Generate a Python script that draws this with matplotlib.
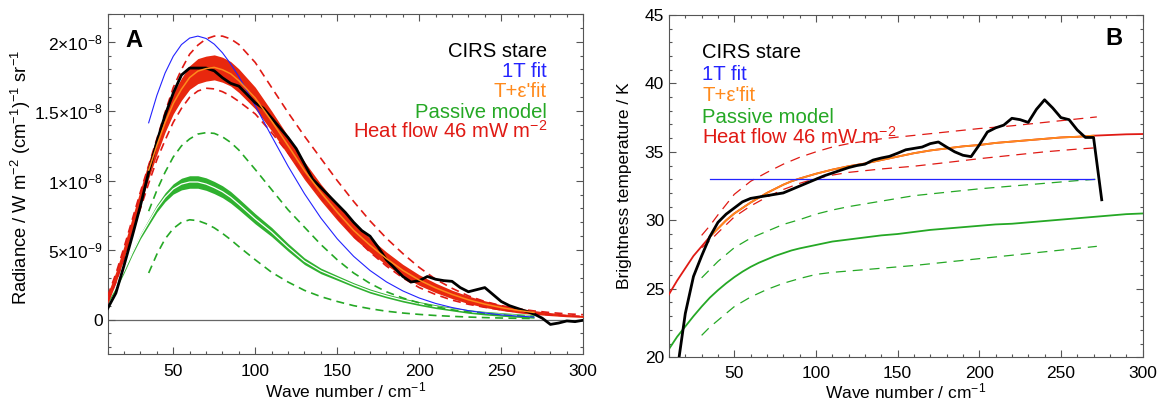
import numpy as np
import matplotlib.pyplot as plt
from matplotlib.ticker import MultipleLocator, FixedLocator, FixedFormatter

plt.rcParams['font.family'] = ['Liberation Sans', 'DejaVu Sans']
plt.rcParams['mathtext.fontset'] = 'custom'
plt.rcParams['mathtext.rm'] = 'Liberation Sans'
plt.rcParams['mathtext.it'] = 'Liberation Sans:italic'
plt.rcParams['mathtext.bf'] = 'Liberation Sans:bold'
plt.rcParams['mathtext.default'] = 'regular'

# ---------------- panel A : radiance (units of 1e-8 W m-2 (cm-1)-1 sr-1) ----------------
wn_model = [10, 15, 20, 25, 30, 35, 40, 45, 50, 55, 60, 65, 70, 75, 80, 85, 90,
            100, 110, 120, 130, 140, 150, 160, 170, 180, 190, 200, 210, 220, 230,
            240, 250, 260, 270, 280, 290, 300]
heat_mid = [0.150, 0.304, 0.486, 0.685, 0.882, 1.076, 1.253, 1.418, 1.555, 1.658, 1.742,
            1.788, 1.806, 1.815, 1.798, 1.769, 1.719,
            1.594, 1.429, 1.252, 1.072, 0.915, 0.773, 0.642, 0.535, 0.439, 0.354, 0.284,
            0.228, 0.181, 0.142, 0.111, 0.086, 0.066, 0.051, 0.039, 0.029, 0.022]
heat_hw = [0.035, 0.04, 0.045, 0.05, 0.055, 0.06, 0.065, 0.07, 0.075, 0.08, 0.085,
           0.09, 0.09, 0.09, 0.09, 0.088, 0.085,
           0.078, 0.072, 0.068, 0.064, 0.06, 0.058, 0.055, 0.05, 0.047, 0.043, 0.038,
           0.034, 0.03, 0.027, 0.024, 0.02, 0.017, 0.014, 0.011, 0.009, 0.007]
heat_hi = [0.17, 0.33, 0.52, 0.72, 0.92, 1.11, 1.30, 1.49, 1.67, 1.80, 1.91,
           1.975, 2.02, 2.04, 2.04, 2.02, 1.98,
           1.85, 1.67, 1.49, 1.32, 1.16, 1.00, 0.85, 0.71, 0.585, 0.475, 0.375,
           0.29, 0.225, 0.17, 0.13, 0.10, 0.078, 0.062, 0.05, 0.041, 0.035]
heat_lo = [0.13, 0.27, 0.44, 0.62, 0.80, 0.98, 1.15, 1.29, 1.42, 1.52, 1.60,
           1.645, 1.665, 1.66, 1.64, 1.61, 1.57,
           1.48, 1.345, 1.20, 1.04, 0.88, 0.74, 0.60, 0.485, 0.385, 0.30, 0.23,
           0.18, 0.14, 0.11, 0.088, 0.07, 0.055, 0.043, 0.034, 0.027, 0.022]

wn_green = [10, 15, 20, 25, 30, 35, 40, 45, 50, 55, 60, 65, 70, 75, 80, 85, 90,
            100, 110, 120, 130, 140, 150, 160, 170, 180, 190, 200, 210, 220, 230,
            240, 250, 260, 270]
passive_mid = [0.13, 0.23, 0.35, 0.48, 0.60, 0.70, 0.80, 0.88, 0.94, 0.975, 0.99,
               0.99, 0.975, 0.95, 0.92, 0.88, 0.83,
               0.725, 0.63, 0.52, 0.42, 0.35, 0.30, 0.25, 0.205, 0.17, 0.14, 0.115,
               0.093, 0.075, 0.058, 0.046, 0.037, 0.029, 0.022]
passive_hw = [0.015, 0.015, 0.015, 0.015, 0.018, 0.022, 0.027, 0.032, 0.037, 0.042, 0.045,
              0.045, 0.045, 0.044, 0.043, 0.042, 0.04,
              0.037, 0.033, 0.028, 0.024, 0.02, 0.017, 0.015, 0.015, 0.014, 0.014, 0.014,
              0.014, 0.013, 0.013, 0.013, 0.013, 0.013, 0.013]

wn_gdash = [35, 40, 45, 50, 55, 60, 65, 70, 75, 80, 85, 90,
            100, 110, 120, 130, 140, 150, 160, 170, 180, 190, 200, 210, 220, 230,
            240, 250, 260, 270]
passive_hi = [0.78, 0.93, 1.06, 1.17, 1.25, 1.30, 1.335, 1.345, 1.34, 1.315, 1.275, 1.22,
              1.08, 0.935, 0.79, 0.665, 0.54, 0.43, 0.335, 0.26, 0.20, 0.155, 0.12,
              0.092, 0.07, 0.055, 0.043, 0.034, 0.027, 0.021]
passive_lo = [0.335, 0.47, 0.58, 0.655, 0.70, 0.718, 0.712, 0.69, 0.66, 0.62, 0.575, 0.525,
              0.43, 0.34, 0.27, 0.21, 0.165, 0.13, 0.10, 0.078, 0.06, 0.047, 0.037,
              0.029, 0.023, 0.018, 0.014, 0.011, 0.009, 0.007]

wn_fit = [35, 40, 45, 50, 55, 60, 65, 70, 75, 80, 85, 90,
          100, 110, 120, 130, 140, 150, 160, 170, 180, 190, 200, 210, 220, 230,
          240, 250, 260, 270]
onet_rad = [1.416, 1.613, 1.774, 1.895, 1.979, 2.026, 2.04, 2.023, 1.982, 1.920, 1.84, 1.748,
            1.539, 1.319, 1.104, 0.906, 0.731, 0.581, 0.455, 0.353, 0.271, 0.206, 0.155,
            0.116, 0.0865, 0.064, 0.047, 0.034, 0.025, 0.018]
teps_rad = [1.076, 1.253, 1.418, 1.555, 1.658, 1.742, 1.788, 1.806, 1.815, 1.798, 1.769, 1.719,
            1.594, 1.429, 1.252, 1.072, 0.915, 0.773, 0.642, 0.535, 0.439, 0.354, 0.284,
            0.228, 0.181, 0.142, 0.111, 0.086, 0.066, 0.051]

wn_stare = [10, 15, 20, 25, 30, 35, 40, 45, 50, 55, 60, 65, 70, 75, 80, 85, 90, 95,
            100, 105, 110, 115, 120, 125, 130, 135, 140, 145, 150, 155, 160, 165, 170,
            175, 180, 185, 190, 195, 200, 205, 210, 215, 220, 225, 230, 235, 240, 245,
            250, 255, 260, 265, 270, 275, 280, 285, 290, 295, 300]
stare_rad = [0.08, 0.19, 0.39, 0.60, 0.82, 1.06, 1.28, 1.47, 1.63, 1.76,
             1.81, 1.81, 1.81, 1.79, 1.74, 1.70, 1.68, 1.62, 1.56, 1.52,
             1.45, 1.38, 1.31, 1.23, 1.12, 1.01, 0.95, 0.89, 0.83, 0.77,
             0.70, 0.64, 0.60, 0.52, 0.43, 0.37, 0.31, 0.27, 0.28, 0.31,
             0.29, 0.28, 0.275, 0.23, 0.20, 0.215, 0.23, 0.18, 0.13, 0.10,
             0.08, 0.06, 0.04, 0.01, -0.035, -0.025, -0.01, -0.015, -0.005]

# ---------------- panel B : brightness temperature (K) ----------------
heat_tb = [24.6, 25.6, 26.5, 27.4, 28.1, 28.8, 29.4, 30.0, 30.5, 30.9, 31.3,
           31.65, 32.0, 32.3, 32.6, 32.85, 33.05,
           33.4, 33.7, 33.95, 34.15, 34.4, 34.65, 34.9, 35.1, 35.25, 35.4, 35.5,
           35.65, 35.75, 35.85, 35.95, 36.05, 36.1, 36.18, 36.23, 36.28, 36.3]
passive_tb = [20.6, 21.5, 22.25, 23.0, 23.7, 24.35, 24.9, 25.4, 25.85, 26.25, 26.6,
              26.9, 27.15, 27.4, 27.6, 27.8, 27.95,
              28.2, 28.45, 28.6, 28.75, 28.9, 29.0, 29.15, 29.3, 29.4, 29.5, 29.6,
              29.7, 29.75, 29.85, 29.95, 30.05, 30.15, 30.25, 30.35, 30.45, 30.5]
teps_tb = [28.8, 29.4, 30.0, 30.5, 30.9, 31.3, 31.65, 32.0, 32.3, 32.6, 32.85, 33.05,
           33.4, 33.7, 33.95, 34.15, 34.4, 34.65, 34.9, 35.1, 35.25, 35.4, 35.5,
           35.65, 35.75, 35.85, 35.95, 36.05, 36.1, 36.18]
wn_onet_b = [35, 270]
onet_tb = [33.0, 33.0]

wn_dash_b = [30, 35, 40, 50, 60, 70, 80, 90, 100, 110, 120, 140, 160, 180, 200, 220, 240, 260, 272]
heat_hi_tb = [28.9, 29.6, 30.4, 31.9, 32.85, 33.5, 34.1, 34.6, 35.0, 35.35, 35.6, 35.95,
              36.2, 36.45, 36.7, 36.9, 37.15, 37.4, 37.55]
heat_lo_tb = [28.0, 28.5, 29.1, 30.25, 31.05, 31.7, 32.25, 32.7, 33.05, 33.3, 33.5, 33.75,
              33.95, 34.22, 34.5, 34.75, 35.0, 35.2, 35.3]
passive_hi_tb = [25.8, 26.4, 27.0, 28.0, 28.7, 29.2, 29.7, 30.05, 30.45, 30.75, 31.0, 31.4,
                 31.8, 32.05, 32.3, 32.5, 32.7, 32.9, 33.0]
passive_lo_tb = [21.6, 22.2, 22.7, 23.7, 24.4, 24.95, 25.4, 25.75, 26.05, 26.2, 26.3, 26.5,
                 26.7, 26.95, 27.2, 27.45, 27.7, 27.95, 28.1]

wn_stare_b = [10, 15, 20, 25, 30, 35, 40, 45, 50, 55, 60, 65, 70, 75, 80, 85, 90, 95,
              100, 105, 110, 115, 120, 125, 130, 135, 140, 145, 150, 155, 160, 165, 170,
              175, 180, 185, 190, 195, 200, 205, 210, 215, 220, 225, 230, 235, 240, 245,
              250, 255, 260, 265, 270, 275]
stare_tb = [16.3, 19.0, 23.2, 25.9, 27.4, 28.8, 29.85, 30.45, 30.9, 31.35,
            31.6, 31.7, 31.8, 31.9, 32.0, 32.25, 32.5, 32.75, 33.0, 33.25,
            33.45, 33.65, 33.85, 34.0, 34.1, 34.4, 34.55, 34.67, 34.9, 35.15,
            35.25, 35.35, 35.6, 35.72, 35.35, 35.0, 34.75, 34.65, 35.5, 36.45,
            36.75, 36.95, 37.45, 37.35, 37.15, 38.1, 38.8, 38.2, 37.5, 37.35,
            36.6, 36.05, 36.05, 31.5]

# colours
BLACK = 'black'
BLUE = '#2323ff'
ORANGE = '#ff8a1c'
GREEN = '#25a825'
GREEN_BAND = '#2fb12f'
RED = '#e01a14'
RED_BAND = '#e8280e'
FRAME = '#555555'

labels = ['CIRS stare', '1T fit', "T+\u03b5'fit", 'Passive model', 'Heat flow 46 mW m$^{-2}$']
label_colors = [BLACK, BLUE, ORANGE, GREEN, RED]

fig = plt.figure(figsize=(11.59, 4.0), dpi=100)
axA = fig.add_axes([0.0929, 0.1143, 0.4103, 0.851])
axB = fig.add_axes([0.5772, 0.1068, 0.4086, 0.856])

e8 = 1e-8
arr = np.array

# ---- A ----
axA.axhline(0, color='#666666', lw=0.9, zorder=1)
axA.fill_between(wn_green, (arr(passive_mid) - arr(passive_hw)) * e8,
                 (arr(passive_mid) + arr(passive_hw)) * e8, color=GREEN_BAND, lw=0, zorder=2)
axA.plot(wn_green, arr(passive_mid) * e8, color='white', lw=0.9, zorder=3)
axA.plot(wn_gdash, arr(passive_hi) * e8, color=GREEN, lw=1.2, ls=(0, (4.8, 3.2)), zorder=3)
axA.plot(wn_gdash, arr(passive_lo) * e8, color=GREEN, lw=1.2, ls=(0, (4.8, 3.2)), zorder=3)
axA.fill_between(wn_model, (arr(heat_mid) - arr(heat_hw)) * e8,
                 (arr(heat_mid) + arr(heat_hw)) * e8, color=RED_BAND, lw=0, zorder=4)
axA.plot(wn_model, arr(heat_hi) * e8, color=RED, lw=1.2, ls=(0, (4.8, 3.2)), zorder=4)
axA.plot(wn_model, arr(heat_lo) * e8, color=RED, lw=1.2, ls=(0, (4.8, 3.2)), zorder=4)
axA.plot(wn_fit, arr(onet_rad) * e8, color=BLUE, lw=0.8, zorder=5)
axA.plot(wn_stare, arr(stare_rad) * e8, color=BLACK, lw=2.0, zorder=6)
axA.plot(wn_fit, arr(teps_rad) * e8, color=ORANGE, lw=1.1, zorder=7)

axA.set_xlim(10, 300)
axA.set_ylim(-2.5e-9, 2.2e-8)
axA.yaxis.set_major_locator(FixedLocator([0, 5e-9, 1e-8, 1.5e-8, 2e-8]))
axA.yaxis.set_major_formatter(FixedFormatter(['0', r'$5{\times}10^{-9}$', r'$1{\times}10^{-8}$',
                                              r'$1.5{\times}10^{-8}$', r'$2{\times}10^{-8}$']))
axA.yaxis.set_minor_locator(MultipleLocator(1e-9))
axA.set_ylabel('Radiance / W m$^{-2}$ (cm$^{-1}$)$^{-1}$ sr$^{-1}$', fontsize=13.2)
axA.yaxis.set_label_coords(-0.158, 0.52)
axA.text(0.037, 0.921, 'A', transform=axA.transAxes, fontsize=17, fontweight='bold',
         ha='left', va='center')
for i, (lab, col) in enumerate(zip(labels, label_colors)):
    axA.text(0.924, 0.8746 - i * 0.0597, lab, color=col, transform=axA.transAxes,
             fontsize=14.6, ha='right', va='baseline')

# ---- B ----
axB.plot(wn_model, passive_tb, color=GREEN, lw=1.3, zorder=2)
axB.plot(wn_dash_b, passive_hi_tb, color=GREEN, lw=0.9, ls=(0, (8, 5.5)), zorder=2)
axB.plot(wn_dash_b, passive_lo_tb, color=GREEN, lw=0.9, ls=(0, (8, 5.5)), zorder=2)
axB.plot(wn_dash_b, heat_hi_tb, color=RED, lw=0.9, ls=(0, (8, 5.5)), zorder=3)
axB.plot(wn_dash_b, heat_lo_tb, color=RED, lw=0.9, ls=(0, (8, 5.5)), zorder=3)
axB.plot(wn_model, heat_tb, color=RED, lw=1.3, zorder=3)
axB.plot(wn_fit, teps_tb, color=ORANGE, lw=1.3, zorder=4)
axB.plot(wn_onet_b, onet_tb, color=BLUE, lw=0.9, zorder=5)
axB.plot(wn_stare_b, stare_tb, color=BLACK, lw=2.0, zorder=6)

axB.set_xlim(10, 300)
axB.set_ylim(20, 45)
axB.yaxis.set_major_locator(MultipleLocator(5))
axB.yaxis.set_minor_locator(MultipleLocator(1))
axB.set_ylabel('Brightness temperature / K', fontsize=12.5)
axB.yaxis.set_label_coords(-0.078, 0.5)
axB.text(0.958, 0.931, 'B', transform=axB.transAxes, fontsize=17, fontweight='bold',
         ha='right', va='center')
for i, (lab, col) in enumerate(zip(labels, label_colors)):
    axB.text(0.07, 0.8735 - i * 0.0628, lab, color=col, transform=axB.transAxes,
             fontsize=14.6, ha='left', va='baseline')

for ax, ly, xpad in ((axA, -0.078, 7), (axB, -0.072, 6)):
    ax.xaxis.set_major_locator(MultipleLocator(50))
    ax.xaxis.set_minor_locator(MultipleLocator(10))
    ax.set_xlabel('Wave number / cm$^{-1}$', fontsize=12.5)
    ax.xaxis.set_label_coords(0.5, ly)
    ax.tick_params(which='both', direction='in', top=True, right=True,
                   color=FRAME, width=0.8, labelsize=12.5)
    ax.tick_params(which='major', length=5)
    ax.tick_params(which='minor', length=2.5)
    ax.tick_params(axis='x', pad=xpad)
    ax.tick_params(axis='y', pad=3.5)
    for sp in ax.spines.values():
        sp.set_color(FRAME)
        sp.set_linewidth(0.8)

fig.savefig('out.png', dpi=100)
